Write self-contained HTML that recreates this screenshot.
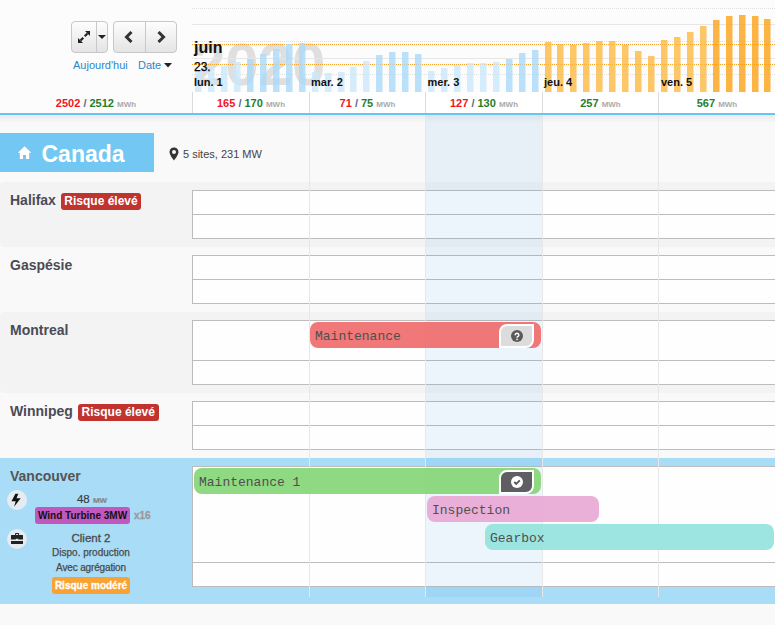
<!DOCTYPE html>
<html><head><meta charset="utf-8">
<style>
*{box-sizing:border-box;margin:0;padding:0}
html,body{width:775px;height:625px;overflow:hidden}
body{position:relative;background:#f9f9f9;font-family:"Liberation Sans",sans-serif;color:#333}
.abs{position:absolute}
#hdr{position:absolute;left:0;top:0;width:775px;height:113px;background:#fcfcfc}
.btng{position:absolute;top:21px;height:32px;border:1px solid #c8c8c8;border-radius:4px;background:linear-gradient(#fdfdfd,#e4e4e4);overflow:hidden}
.btng .div{position:absolute;top:0;bottom:0;width:1px;background:#c8c8c8}
.lnk{position:absolute;top:59px;font-size:11px;color:#2a87cc;line-height:13px}
.tot{position:absolute;font-size:11px;font-weight:bold;line-height:13px;white-space:nowrap}
.red{color:#f0141e} .grn{color:#23802a} .sl{color:#5b6a86} .unit{color:#aaa;font-size:8px}
.dayc{position:absolute;top:92px;height:21px;background:#fff;border-left:1px solid #dcdcdc;text-align:center;padding-top:5px}
.dlab{position:absolute;top:76px;font-size:11px;font-weight:bold;color:#111;line-height:13px}
#bl{position:absolute;left:0;top:113px;width:775px;height:2px;background:#68c4f2}
#shadow{position:absolute;left:0;top:115px;width:775px;height:8px;background:linear-gradient(#ebebeb,rgba(249,249,249,0))}
.row{position:absolute;left:0;width:790px;border-radius:4px}
.rl{position:absolute;left:10px;font-size:14px;font-weight:bold;color:#4b4b55;line-height:16px;white-space:nowrap}
.badge{border-radius:3px;color:#fff;font-weight:bold;white-space:nowrap}
.grid{position:absolute;left:192px;width:600px;background:#fefefe;border:1px solid #bcbcbc}
.grid .hl{position:absolute;left:0;right:0;height:1px;background:#bcbcbc}
.vl{position:absolute;top:115px;height:482px;width:1px;background:#e7e7e7}
.ev{position:absolute;height:26px;border-radius:8px;font-family:"Liberation Mono",monospace;font-size:13px;color:#4f4f4f;line-height:30px;padding-left:5px;white-space:nowrap}
.evb{position:absolute;right:7px;top:2px;width:35px;height:24px;border:2px solid #fff;border-radius:8px 0 8px 0}
</style></head><body>
<div id="hdr">
  <div class="btng" style="left:71px;width:37px">
    <div class="div" style="left:23.5px"></div>
    <svg class="abs" style="left:6px;top:9px" width="12" height="12" viewBox="0 0 12 12">
      <path d="M12 0 L12 5 L7 0 Z" fill="#222"/><path d="M0 12 L0 7 L5 12 Z" fill="#222"/>
      <path d="M9.5 2.5 L6.7 5.3 M5.3 6.7 L2.5 9.5" stroke="#222" stroke-width="2.1"/>
    </svg>
    <svg class="abs" style="left:26px;top:13px" width="8" height="5" viewBox="0 0 8 5"><path d="M0 0 L8 0 L4 4 Z" fill="#222"/></svg>
  </div>
  <div class="btng" style="left:113px;width:64px">
    <div class="div" style="left:31px"></div>
    <svg class="abs" style="left:10px;top:9px" width="10" height="12" viewBox="0 0 10 12"><path d="M7.5 1 L2.5 6 L7.5 11" stroke="#333" stroke-width="3" fill="none"/></svg>
    <svg class="abs" style="left:42px;top:9px" width="10" height="12" viewBox="0 0 10 12"><path d="M2.5 1 L7.5 6 L2.5 11" stroke="#333" stroke-width="3" fill="none"/></svg>
  </div>
  <div class="lnk" style="left:73px">Aujourd'hui</div>
  <div class="lnk" style="left:138px">Date <svg width="8" height="5" viewBox="0 0 8 5" style="vertical-align:1px"><path d="M0 0 L8 0 L4 4.5 Z" fill="#222"/></svg></div>
  <div class="tot" style="left:0;width:192px;top:97px;text-align:center"><span class="red">2502</span> <span class="sl">/</span> <span class="grn">2512</span> <span class="unit">MWh</span></div>

  <svg class="abs" style="left:192px;top:0" width="583" height="92" viewBox="0 0 583 92">
    <text x="0" y="85" font-family="Liberation Sans" font-weight="bold" font-size="60" fill="#dfdfdf">2020</text>
    <line x1="0" y1="24.5" x2="583" y2="24.5" stroke="#e6e6e6" stroke-width="1"/>
    <line x1="0" y1="58.5" x2="583" y2="58.5" stroke="#e6e6e6" stroke-width="1"/>
    <line x1="0" y1="8.5" x2="583" y2="8.5" stroke="#e0e0e0" stroke-width="1" stroke-dasharray="1,1"/>
    <line x1="0" y1="41.5" x2="583" y2="41.5" stroke="#e0e0e0" stroke-width="1" stroke-dasharray="1,1"/>
    <line x1="0" y1="74.5" x2="583" y2="74.5" stroke="#e0e0e0" stroke-width="1" stroke-dasharray="1,1"/>
    <line x1="0" y1="44.5" x2="583" y2="44.5" stroke="#f5a02a" stroke-width="1" stroke-dasharray="1,1"/>
    <line x1="0" y1="64.5" x2="583" y2="64.5" stroke="#f5a02a" stroke-width="1" stroke-dasharray="1,1"/>
    <rect x="3" y="71" width="6.5" height="21" fill="#c9e7fa" fill-opacity="0.8"/>
<rect x="16" y="67" width="6.5" height="25" fill="#c9e7fa" fill-opacity="0.8"/>
<rect x="29" y="66" width="6.5" height="26" fill="#c9e7fa" fill-opacity="0.8"/>
<rect x="42" y="62" width="6.5" height="30" fill="#c9e7fa" fill-opacity="0.8"/>
<rect x="55" y="59" width="6.5" height="33" fill="#a9d9f7" fill-opacity="0.8"/>
<rect x="68" y="54" width="6.5" height="38" fill="#a9d9f7" fill-opacity="0.8"/>
<rect x="81" y="49" width="6.5" height="43" fill="#a9d9f7" fill-opacity="0.8"/>
<rect x="94" y="44" width="6.5" height="48" fill="#a9d9f7" fill-opacity="0.8"/>
<rect x="107" y="43" width="6.5" height="49" fill="#a9d9f7" fill-opacity="0.8"/>
<rect x="120" y="72" width="6.5" height="20" fill="#c9e7fa" fill-opacity="0.8"/>
<rect x="133" y="73" width="6.5" height="19" fill="#c9e7fa" fill-opacity="0.8"/>
<rect x="146" y="72" width="6.5" height="20" fill="#c9e7fa" fill-opacity="0.8"/>
<rect x="158" y="67" width="6.5" height="25" fill="#c9e7fa" fill-opacity="0.8"/>
<rect x="171" y="61" width="6.5" height="31" fill="#c9e7fa" fill-opacity="0.8"/>
<rect x="184" y="55" width="6.5" height="37" fill="#a9d9f7" fill-opacity="0.8"/>
<rect x="197" y="52" width="6.5" height="40" fill="#a9d9f7" fill-opacity="0.8"/>
<rect x="210" y="52" width="6.5" height="40" fill="#a9d9f7" fill-opacity="0.8"/>
<rect x="223" y="54" width="6.5" height="38" fill="#a9d9f7" fill-opacity="0.8"/>
<rect x="236" y="71" width="6.5" height="21" fill="#c9e7fa" fill-opacity="0.8"/>
<rect x="249" y="68" width="6.5" height="24" fill="#c9e7fa" fill-opacity="0.8"/>
<rect x="262" y="65" width="6.5" height="27" fill="#c9e7fa" fill-opacity="0.8"/>
<rect x="275" y="63" width="6.5" height="29" fill="#c9e7fa" fill-opacity="0.8"/>
<rect x="288" y="63" width="6.5" height="29" fill="#c9e7fa" fill-opacity="0.8"/>
<rect x="301" y="62" width="6.5" height="30" fill="#c9e7fa" fill-opacity="0.8"/>
<rect x="314" y="59" width="6.5" height="33" fill="#a9d9f7" fill-opacity="0.8"/>
<rect x="327" y="53" width="6.5" height="39" fill="#a9d9f7" fill-opacity="0.8"/>
<rect x="340" y="50" width="6.5" height="42" fill="#a9d9f7" fill-opacity="0.8"/>
<rect x="353" y="42" width="6.5" height="50" fill="#fcb944" fill-opacity="0.82"/>
<rect x="365" y="44" width="6.5" height="48" fill="#fcb944" fill-opacity="0.82"/>
<rect x="378" y="45" width="6.5" height="47" fill="#fcb944" fill-opacity="0.82"/>
<rect x="391" y="43" width="6.5" height="49" fill="#fcb944" fill-opacity="0.82"/>
<rect x="404" y="41" width="6.5" height="51" fill="#fcb944" fill-opacity="0.82"/>
<rect x="417" y="41" width="6.5" height="51" fill="#fcb944" fill-opacity="0.82"/>
<rect x="430" y="45" width="6.5" height="47" fill="#fcb944" fill-opacity="0.82"/>
<rect x="443" y="51" width="6.5" height="41" fill="#fcb944" fill-opacity="0.82"/>
<rect x="456" y="56" width="6.5" height="36" fill="#fcb944" fill-opacity="0.82"/>
<rect x="469" y="40" width="6.5" height="52" fill="#fcb944" fill-opacity="0.82"/>
<rect x="482" y="37" width="6.5" height="55" fill="#fcb944" fill-opacity="0.82"/>
<rect x="495" y="32" width="6.5" height="60" fill="#fcb944" fill-opacity="0.82"/>
<rect x="508" y="26" width="6.5" height="66" fill="#fcb944" fill-opacity="0.82"/>
<rect x="521" y="20" width="6.5" height="72" fill="#fba41c" fill-opacity="0.82"/>
<rect x="534" y="16" width="6.5" height="76" fill="#fba41c" fill-opacity="0.82"/>
<rect x="547" y="15" width="6.5" height="77" fill="#fba41c" fill-opacity="0.82"/>
<rect x="560" y="16" width="6.5" height="76" fill="#fba41c" fill-opacity="0.82"/>
<rect x="572" y="19" width="6.5" height="73" fill="#fba41c" fill-opacity="0.82"/>
  </svg>
  <div class="abs" style="left:194px;top:38.5px;font-size:16px;font-weight:bold;color:#111;line-height:17px">juin</div>
  <div class="abs" style="left:194px;top:60.5px;font-size:12px;color:#000;line-height:13px;-webkit-text-stroke:0.25px #000">23.</div>
  <div class="dlab" style="left:194px">lun. 1</div>
  <div class="dlab" style="left:311px">mar. 2</div>
  <div class="dlab" style="left:427.5px">mer. 3</div>
  <div class="dlab" style="left:544px">jeu. 4</div>
  <div class="dlab" style="left:661px">ven. 5</div>

  <div class="dayc tot" style="left:192px;width:117px"><span class="red">165</span> <span class="sl">/</span> <span class="grn">170</span> <span class="unit">MWh</span></div>
  <div class="dayc tot" style="left:309px;width:116px"><span class="red">71</span> <span class="sl">/</span> <span class="grn">75</span> <span class="unit">MWh</span></div>
  <div class="dayc tot" style="left:425px;width:117px"><span class="red">127</span> <span class="sl">/</span> <span class="grn">130</span> <span class="unit">MWh</span></div>
  <div class="dayc tot" style="left:542px;width:116px"><span class="grn">257</span> <span class="unit">MWh</span></div>
  <div class="dayc tot" style="left:658px;width:117px"><span class="grn">567</span> <span class="unit">MWh</span></div>
</div>
<div id="bl"></div>
<div id="shadow"></div>

<!-- Canada header -->
<div class="abs" style="left:0;top:133px;width:154px;height:39px;background:#72c7f3"></div>
<svg class="abs" style="left:17px;top:146px" width="16" height="14" viewBox="0 0 16 14"><path d="M7.6 0.2 L14.3 6.7 L12.2 6.7 L12.2 13 L9 13 L9 9 L6 9 L6 13 L2.8 13 L2.8 6.7 L0.8 6.7 Z" fill="#fff"/></svg>
<div class="abs" style="left:41.5px;top:141px;font-size:23px;font-weight:bold;color:#fff;line-height:27px">Canada</div>
<svg class="abs" style="left:168.5px;top:147.2px" width="10" height="14" viewBox="0 0 10 14"><path d="M5 0.5 C2.3 0.5 0.5 2.5 0.5 5 C0.5 8 5 13.5 5 13.5 C5 13.5 9.5 8 9.5 5 C9.5 2.5 7.7 0.5 5 0.5 Z M5 3 A2 2 0 1 1 5 7 A2 2 0 1 1 5 3 Z" fill="#333" fill-rule="evenodd"/></svg>
<div class="abs" style="left:183px;top:148px;font-size:11px;color:#444;line-height:13px">5 sites, 231 MW</div>

<!-- rows -->
<div class="row" style="top:182px;height:64.5px;background:#f3f3f3"></div>
<div class="row" style="top:246.5px;height:65.5px;background:#f9f9f9"></div>
<div class="row" style="top:312px;height:80.5px;background:#f3f3f3"></div>
<div class="row" style="top:392.5px;height:65.5px;background:#f9f9f9"></div>
<div class="row" style="top:458px;height:145.7px;background:#a8dcf7;border-radius:0"></div>

<div class="grid" style="top:190px;height:49px"><div class="hl" style="top:23px"></div></div>
<div class="grid" style="top:255px;height:49px"><div class="hl" style="top:23px"></div></div>
<div class="grid" style="top:320px;height:65px"><div class="hl" style="top:39px"></div></div>
<div class="grid" style="top:401px;height:49px"><div class="hl" style="top:23px"></div></div>
<div class="grid" style="top:466px;height:121px"><div class="hl" style="top:95px"></div></div>

<!-- day overlay -->
<div class="abs" style="left:425px;top:115px;width:117px;height:482px;background:rgba(85,165,235,0.1)"></div>
<div class="vl" style="left:309px"></div>
<div class="vl" style="left:425px"></div>
<div class="vl" style="left:542px"></div>
<div class="vl" style="left:658px"></div>

<!-- labels -->
<div class="rl" style="top:192px">Halifax</div>
<div class="abs badge" style="left:61px;top:193px;width:80px;height:17px;background:#c1332f;font-size:12px;line-height:17px;text-align:center">Risque élevé</div>
<div class="rl" style="top:257px">Gaspésie</div>
<div class="rl" style="top:322px">Montreal</div>
<div class="rl" style="top:403px">Winnipeg</div>
<div class="abs badge" style="left:78px;top:404px;width:80.5px;height:17px;background:#c1332f;font-size:12px;line-height:17px;text-align:center">Risque élevé</div>
<div class="rl" style="top:468px;color:#555">Vancouver</div>

<!-- vancouver info -->
<div class="abs" style="left:7px;top:490px;width:20px;height:20px;border-radius:50%;background:#e4ecf1"></div>
<svg class="abs" style="left:7px;top:491px" width="20" height="20" viewBox="7 491 20 20"><path d="M15.4 493.7 L18.3 493.7 L16.5 498.3 L20.7 498.3 L14.1 506.8 L15.7 501.2 L11.5 501.2 Z" fill="#111"/></svg>
<div class="abs" style="left:0;width:184px;top:493px;text-align:center;font-size:11.5px;color:#3a3a3a;line-height:12px;-webkit-text-stroke:0.15px #3a3a3a">48 <span style="font-size:8px;font-weight:bold;color:#999">MW</span></div>
<div class="abs" style="left:35px;top:507px;width:95px;height:17px;border-radius:3px;background:#c058c0;color:#111;font-weight:bold;font-size:10px;line-height:17px;text-align:center">Wind Turbine 3MW</div>
<div class="abs" style="left:134px;top:510px;font-size:10px;font-weight:bold;color:#9a9a9a;line-height:12px;-webkit-text-stroke:0.3px #9a9a9a">x16</div>
<div class="abs" style="left:7px;top:529px;width:20px;height:20px;border-radius:50%;background:#e4ecf1"></div>
<svg class="abs" style="left:7px;top:529px" width="20" height="20" viewBox="7 529 20 20"><path d="M15.1 535.2 L15.1 533.6 Q15.1 532.9 15.8 532.9 L18.4 532.9 Q19.1 532.9 19.1 533.6 L19.1 535.2 Z M16.1 535 L18.1 535 L18.1 534 L16.1 534 Z" fill="#222" fill-rule="evenodd"/>
<path d="M11.5 535 L22.5 535 Q23 535 23 535.5 L23 539.6 L18.2 539.6 L18.2 538.7 L15.8 538.7 L15.8 539.6 L11 539.6 L11 535.5 Q11 535 11.5 535 Z" fill="#222"/>
<path d="M11 541.1 L23 541.1 L23 543.5 Q23 544 22.5 544 L11.5 544 Q11 544 11 543.5 Z" fill="#222"/></svg>
<div class="abs" style="left:30px;width:122px;top:531.5px;text-align:center;font-size:11.5px;color:#4a4a4a;line-height:13px;-webkit-text-stroke:0.3px #4a4a4a">Client 2</div>
<div class="abs" style="left:30px;width:122px;top:547px;text-align:center;font-size:10px;color:#4a4a4a;line-height:12px;-webkit-text-stroke:0.25px #4a4a4a">Dispo. production</div>
<div class="abs" style="left:30px;width:122px;top:562px;text-align:center;font-size:10px;color:#4a4a4a;line-height:12px;-webkit-text-stroke:0.25px #4a4a4a;letter-spacing:-0.15px">Avec agrégation</div>
<div class="abs" style="left:52px;top:577px;width:78px;height:17px;border-radius:3px;background:#f7a232;color:#fff;font-weight:bold;font-size:10px;line-height:17px;text-align:center;-webkit-text-stroke:0.3px #fff">Risque modéré</div>

<!-- events -->
<div class="ev" style="left:310px;top:322px;width:231px;background:rgba(238,105,105,0.9)">Maintenance
  <div class="evb" style="background:#dcdcdc"><svg class="abs" style="left:10px;top:4px" width="12" height="12" viewBox="0 0 12 12"><circle cx="6" cy="6" r="6" fill="#5a5a5a"/><path d="M4.2 5.2 A1.8 1.7 0 1 1 7.1 6.4 Q6 6.9 6 7.7" stroke="#fff" stroke-width="1.5" fill="none"/><circle cx="6" cy="9.3" r="0.85" fill="#fff"/></svg></div>
</div>
<div class="ev" style="left:194px;top:468px;width:347px;background:rgba(131,213,116,0.9)">Maintenance 1
  <div class="evb" style="background:#5f5f63"><svg class="abs" style="left:10px;top:4px" width="12" height="12" viewBox="0 0 12 12"><circle cx="6" cy="6" r="6" fill="#fff"/><path d="M3.3 6 L5.2 7.9 L8.8 4.3" stroke="#555" stroke-width="1.8" fill="none"/></svg></div>
</div>
<div class="ev" style="left:427px;top:496px;width:172px;height:25.5px;background:rgba(232,167,212,0.9)">Inspection</div>
<div class="ev" style="left:485px;top:524px;width:289px;background:rgba(146,226,221,0.9)">Gearbox</div>
</body></html>
